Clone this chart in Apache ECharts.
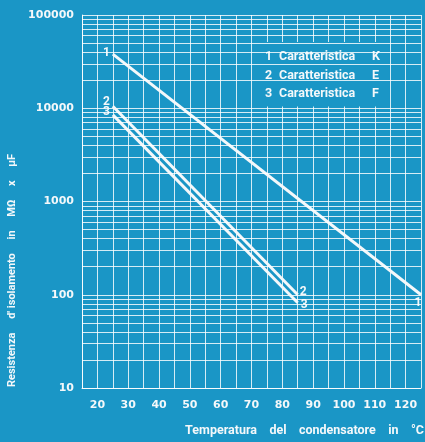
<!DOCTYPE html>
<html><head><meta charset="utf-8">
<script src="https://cdn.jsdelivr.net/npm/echarts@6/dist/echarts.min.js"></script>
<style>html,body{margin:0;padding:0;background:#1a96c6}#c{width:425px;height:442px}</style>
</head><body><div id="c"></div>
<script>
// ---- data ----
const curveNumbers = ['1', '2', '3'];
const curveCodes = ['K', 'E', 'F'];
const tempsK = [25, 125];
const valuesK = [38000, 100];
const tempsE = [25, 85];
const valuesE = [10500, 100];
const tempsF = [25, 85];
const valuesF = [8500, 82];
const xTickLabels = [20, 30, 40, 50, 60, 70, 80, 90, 100, 110, 120];
const yTickLabels = [10, 100, 1000, 10000, 100000];
const minorGridValues = [20, 30, 40, 50, 60, 70, 80, 90,
  200, 300, 400, 500, 600, 700, 800, 900,
  2000, 3000, 4000, 5000, 6000, 7000, 8000, 9000,
  20000, 30000, 40000, 50000, 60000, 70000, 80000, 90000];
const xAxisTitle = 'Temperatura    del    condensatore    in    °C';
const yAxisTitle = 'Resistenza     d\' isolamento     in     MΩ     x     μF';
const legendWord = 'Caratteristica';

// ---- styling ----
const BG = '#1a96c6';
const WHITE = '#f4f8fa';
const GRID = 'rgba(255,255,255,0.82)';
const numFont = 'DejaVu Sans';
const txtFont = 'Roboto';

const labelStyles = [
  [{ position: 'left', distance: 3, offset: [0, -1] }, { position: 'bottom', distance: 2, offset: [-3, 0] }],
  [{ position: 'left', distance: 3, offset: [0, -4] }, { position: 'right', distance: 2, offset: [0, -3] }],
  [{ position: 'left', distance: 3, offset: [0, -3] }, { position: 'right', distance: 3, offset: [0, 2] }]
];

function buildData(temps, values, idx) {
  return temps.map((t, i) => {
    const isEnd = i === temps.length - 1;
    const st = isEnd ? labelStyles[idx][1] : labelStyles[idx][0];
    return {
      value: [t, values[i]],
      label: Object.assign({
        show: true,
        formatter: curveNumbers[idx],
        color: WHITE,
        fontFamily: txtFont,
        fontWeight: 'bold',
        fontSize: 12
      }, st)
    };
  });
}

const seriesDefs = [[tempsK, valuesK], [tempsE, valuesE], [tempsF, valuesF]];
const series = seriesDefs.map((d, idx) => ({
  name: legendWord + ' ' + curveCodes[idx],
  type: 'line',
  data: buildData(d[0], d[1], idx),
  symbol: 'circle',
  symbolSize: 0.01,
  itemStyle: { color: WHITE },
  lineStyle: { color: WHITE, width: 3 },
  silent: true,
  z: 3
}));
series.push({
  name: 'grid-minor',
  type: 'line',
  data: [],
  silent: true,
  z: 1,
  markLine: {
    silent: true,
    symbol: ['none', 'none'],
    label: { show: false },
    lineStyle: { color: GRID, width: 1, type: 'solid' },
    data: minorGridValues.map(v => ({ yAxis: v }))
  }
});

const chart = echarts.init(document.getElementById('c'), null, { renderer: 'canvas' });
chart.setOption({
  animation: false,
  backgroundColor: BG,
  grid: { left: 82, right: 4, top: 15, bottom: 54, containLabel: false, outerBoundsMode: 'none' },
  legend: {
    data: series.slice(0, 3).map(s => s.name),
    left: 255, top: 42,
    orient: 'vertical',
    icon: 'none',
    itemWidth: 0, itemHeight: 14, itemGap: 5,
    padding: [8, 10, 6, 5],
    backgroundColor: BG,
    selectedMode: false,
    formatter: name => {
      const i = series.findIndex(s => s.name === name);
      return '{n|' + curveNumbers[i] + '}{c|' + legendWord + '}{l|' + curveCodes[i] + '}';
    },
    textStyle: {
      color: WHITE,
      rich: {
        n: { width: 14, color: WHITE, fontFamily: txtFont, fontWeight: 'bold', fontSize: 12.5 },
        c: { width: 93, color: WHITE, fontFamily: txtFont, fontWeight: 'bold', fontSize: 12.5 },
        l: { color: WHITE, fontFamily: txtFont, fontWeight: 'bold', fontSize: 12.5 }
      }
    }
  },
  xAxis: {
    type: 'value', min: 15, max: 125, interval: 5,
    name: xAxisTitle, nameLocation: 'end', nameGap: 3,
    nameMoveOverlap: false,
    nameTextStyle: {
      color: WHITE, fontFamily: txtFont, fontWeight: 'bold', fontSize: 12.5,
      align: 'right', verticalAlign: 'top', padding: [36, 0, 0, 0]
    },
    axisLine: { show: true, lineStyle: { color: GRID, width: 1 } },
    axisTick: { show: false },
    axisLabel: {
      color: WHITE, fontFamily: numFont, fontWeight: 'bold', fontSize: 11, margin: 12,
      formatter: v => (xTickLabels.indexOf(v) >= 0 ? String(v) : '')
    },
    splitLine: { show: true, lineStyle: { color: GRID, width: 1 } }
  },
  yAxis: {
    type: 'log', logBase: 10, min: yTickLabels[0], max: yTickLabels[yTickLabels.length - 1],
    name: yAxisTitle, nameLocation: 'middle', nameGap: 64, nameRotate: 90,
    nameMoveOverlap: false,
    nameTextStyle: {
      color: WHITE, fontFamily: txtFont, fontWeight: 'bold', fontSize: 11,
      padding: [0, 138, 0, 0]
    },
    axisLine: { show: true, lineStyle: { color: GRID, width: 1 } },
    axisTick: { show: false },
    axisLabel: {
      color: WHITE, fontFamily: numFont, fontWeight: 'bold', fontSize: 11, margin: 8,
      align: 'right', padding: [0, 0, 0, 0],
      formatter: v => String(Math.round(v))
    },
    splitLine: { show: true, lineStyle: { color: GRID, width: 1 } }
  },
  series: series
});
</script>
</body></html>
